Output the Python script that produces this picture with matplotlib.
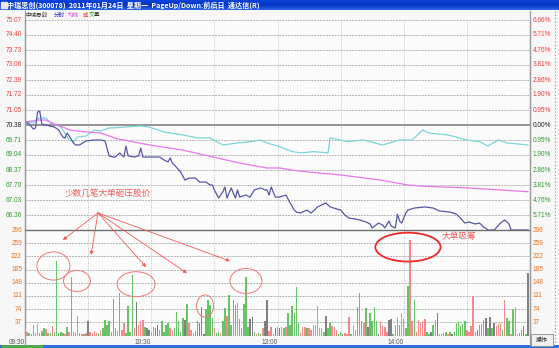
import matplotlib
matplotlib.use('Agg')
import matplotlib.pyplot as plt
from matplotlib.patches import Ellipse, Rectangle
from matplotlib.lines import Line2D
import numpy as np

plt.rcParams['font.family'] = ['Noto Sans CJK SC', 'DejaVu Sans']

# ---- data ----
title = '中瑞思创(300078)  2011年01月24日  星期一  PageUp/Down:前后日  通达信(R)'
stock_name = '中瑞思创'
prev_close = 70.38

price_labels = ['75.07', '74.40', '73.73', '73.06', '72.39', '71.72', '71.05', '70.38',
                '69.71', '69.04', '68.37', '67.70', '67.03', '66.36']
pct_labels = ['6.66%', '5.71%', '4.76%', '3.81%', '2.86%', '1.90%', '0.95%', '0.00%',
              '0.95%', '1.90%', '2.86%', '3.81%', '4.76%', '5.71%']
vol_labels = ['296', '259', '222', '185', '148', '111', '74', '37']
time_ticks = [0, 60, 120, 180]
time_labels = ['09:30', '10:30', '13:00', '14:00']

# price line (minute, price)
price_min = [0, 1, 2, 4, 5, 6, 7, 8, 10, 12, 14, 16, 18, 19, 20, 21, 23, 24, 26, 29, 33, 36, 38,
             40, 42, 43, 45, 47, 48, 49, 52, 54, 55, 56, 59, 64, 66, 68, 69, 70, 71, 74, 76, 78,
             81, 83, 86, 88, 89, 90, 92, 94, 95, 96, 98, 100, 101, 102, 105, 107, 109, 112, 114,
             115, 116, 117, 119, 121, 124, 126, 128, 129, 131, 133, 134, 136, 139, 143, 145, 150,
             152, 154, 157, 159, 162, 164, 165, 168, 170, 171, 173, 174, 176, 177, 178, 179, 181,
             182, 185, 190, 194, 197, 202, 205, 207, 209, 211, 214, 216, 218, 220, 223, 226, 228,
             230, 231, 239]
price_val = [70.51, 70.47, 70.42, 70.20, 70.25, 70.96, 71.00, 70.42, 70.38, 70.33, 70.29, 70.16,
             69.84, 69.80, 70.02, 69.89, 69.58, 69.49, 69.49, 69.67, 69.71, 69.71, 69.67,
             69.00, 68.95, 68.95, 69.13, 68.95, 69.44, 69.00, 68.95, 69.00, 69.35, 68.95, 68.95,
             68.95, 68.82, 68.73, 68.91, 68.68, 68.59, 68.28, 67.92, 68.01, 68.01, 67.83, 67.83,
             67.70, 67.70, 67.48, 67.12, 67.39, 67.61, 67.12, 67.57, 67.12, 67.48, 67.16, 67.25,
             67.16, 67.48, 67.57, 67.48, 67.48, 67.25, 67.61, 67.16, 67.16, 67.25, 66.90, 66.58,
             66.49, 66.45, 66.54, 66.58, 66.45, 66.72, 66.90, 66.72, 66.58, 66.36, 66.22, 66.18,
             66.14, 66.05, 65.96, 65.78, 66.00, 65.91, 65.78, 66.09, 65.87, 65.78, 66.40, 66.09,
             66.00, 66.45, 66.58, 66.67, 66.72, 66.67, 66.54, 66.49, 66.40, 66.22, 66.00, 66.05,
             65.96, 66.00, 65.82, 65.69, 65.69, 66.00, 66.14, 65.96, 65.69, 65.69]

# average price line (minute, price)
avg_min = [0, 6, 10, 14, 19, 21, 28, 36, 44, 59, 75, 89, 102, 115, 121, 129, 139, 150, 169,
           182, 188, 210, 239]
avg_val = [70.51, 70.60, 70.60, 70.42, 70.25, 70.16, 70.08, 70.02, 69.76, 69.49, 69.26, 68.96,
           68.68, 68.46, 68.46, 68.34, 68.24, 68.15, 67.92, 67.70, 67.65, 67.57, 67.40]

# index overlay (minute, % change)
idx_min = [0, 4, 6, 10, 12, 14, 17, 19, 21, 23, 25, 29, 33, 36, 40, 48, 55, 59, 66, 75, 82,
           88, 94, 101, 107, 112, 115, 121, 127, 131, 137, 144, 145, 150, 153, 161, 170, 178,
           184, 189, 192, 201, 210, 216, 220, 225, 229, 239]
idx_pct = [0.19, 0.13, 0.44, 0.44, 0.13, 0.06, -0.13, -0.51, -0.95, -1.08, -0.76, -0.70,
           -0.32, -0.38, -0.19, -0.13, -0.06, -0.13, -0.44, -0.63, -0.82, -0.82, -1.27, -1.14,
           -1.06, -0.95, -1.14, -1.37, -1.69, -1.77, -1.69, -1.77, -0.82, -0.95, -1.06, -0.95,
           -1.27, -0.95, -0.95, -0.32, -0.51, -0.63, -0.95, -1.06, -1.33, -0.95, -1.14, -1.27]

# volume per minute and bar colour code (r up, g down, k flat), 20 minutes per row
volume = [40, 10, 8, 5, 29, 6, 32, 8, 12, 21, 18, 6, 8, 27, 10, 210, 6, 10, 8, 5,
          24, 10, 165, 10, 6, 55, 8, 4, 5, 6, 40, 10, 6, 12, 8, 6, 15, 20, 44, 30,
          41, 10, 102, 20, 12, 120, 15, 35, 8, 83, 10, 170, 20, 95, 29, 40, 44, 25, 20, 15,
          10, 25, 20, 30, 15, 41, 10, 30, 35, 20, 15, 20, 67, 40, 10, 49, 44, 88, 35, 15,
          8, 12, 40, 35, 80, 5, 74, 100, 86, 50, 20, 8, 10, 8, 40, 78, 55, 114, 30, 100,
          85, 92, 45, 20, 88, 165, 25, 46, 53, 10, 5, 8, 5, 20, 40, 100, 12, 25, 5, 20,
          25, 20, 25, 20, 25, 63, 30, 83, 63, 136, 35, 8, 25, 25, 20, 22, 15, 30, 30, 83,
          20, 20, 10, 55, 20, 35, 27, 25, 15, 5, 10, 5, 8, 5, 52, 5, 30, 15, 80, 120,
          40, 35, 78, 25, 63, 40, 80, 40, 5, 41, 27, 25, 10, 44, 45, 5, 30, 53, 30, 63,
          46, 20, 139, 268, 40, 100, 10, 44, 35, 41, 47, 10, 5, 10, 30, 44, 63, 5, 5, 8,
          10, 5, 10, 5, 10, 35, 41, 27, 32, 41, 15, 10, 27, 111, 10, 15, 30, 32, 44, 50,
          20, 52, 20, 35, 27, 32, 35, 15, 100, 49, 41, 5, 74, 81, 5, 8, 15, 27, 5, 175]
vol_dir = list('krgggrrgggrggrgggggr'
               'grgggrgrgrkrrrrgrggg'
               'ggggrgrrggggrkrrrgkk'
               'rrkkgggggrrgggggkgrr'
               'rggkkkggggrggrggrggg'
               'grgggggkkgrggrkkrrgk'
               'rkrgrggggggrrrgrrrrr'
               'rrgkggrrrggkrrrgrrgg'
               'grgkggggkrrrrkkgrrgr'
               'rggrrgrrrrrggkgrkggg'
               'grgkggggggrrrrgkgggk'
               'gkgkrrrgrggrgrrggkgk')

# ---- layout (pixel geometry of the original screenshot) ----
W, H = 559, 348
X0, X1 = 25, 530
Y_TOP, Y_MID, Y_BOT = 20, 230, 335.5

fig = plt.figure(figsize=(W / 100, H / 100), dpi=100)
fig.patch.set_facecolor('#f7f7f7')

def frac_x(px):
    return px / W

def frac_y(py):
    return 1 - py / H

ax_p = fig.add_axes([frac_x(X0), frac_y(Y_MID), frac_x(X1 - X0), (Y_MID - Y_TOP) / H])
ax_v = fig.add_axes([frac_x(X0), frac_y(Y_BOT), frac_x(X1 - X0), (Y_BOT - Y_MID) / H])

red_txt = '#f03c3c'
green_txt = '#2f9a2f'
orange_txt = '#e8731e'
grid_c = '#b4b4b4'
lab_font = dict(family=['Liberation Sans', 'DejaVu Sans'], fontsize=4.7)

price_ticks = [float(s) for s in price_labels]
step = price_ticks[0] - price_ticks[1]
vol_ticks = [float(s) for s in vol_labels]

for ax in (ax_p, ax_v):
    ax.set_facecolor('#fbfbfb')
    ax.set_xlim(0, 240)
    ax.set_xticks([])
    ax.set_yticks([])
    for s in ('top', 'bottom'):
        ax.spines[s].set_visible(False)
    for s in ('left', 'right'):
        ax.spines[s].set_color('#9a9a9a')
        ax.spines[s].set_linewidth(0.9)
    for m in range(30, 240, 30):
        ax.axvline(m, color='#c4c4c4', lw=0.6, ls=(0, (1.5, 1.5)), zorder=0)

ax_p.set_ylim(price_ticks[-1] - step, price_ticks[0])
ax_v.set_ylim(0, 296)

tp = ax_p.get_yaxis_transform()
for i, (lab, pl) in enumerate(zip(price_labels, pct_labels)):
    val = price_ticks[i]
    if abs(val - prev_close) < 1e-6:
        col = '#202020'
        ax_p.axhline(val, color='#8c8c8c', lw=1.3, zorder=1)
    else:
        col = red_txt if val > prev_close else green_txt
        ax_p.axhline(val, color=grid_c, lw=0.7, ls=(0, (2, 1)), zorder=1)
    ax_p.text(-0.006, val, lab, transform=tp, ha='right', va='center', color=col, **lab_font)
    ax_p.text(1.005, val, pl, transform=tp, ha='left', va='center', color=col, **lab_font)

tv = ax_v.get_yaxis_transform()
for lab, val in zip(vol_labels, vol_ticks):
    if val == 296:
        ax_v.axhline(val, color='#6e6e6e', lw=1.0, zorder=3, clip_on=False)
    else:
        ax_v.axhline(val, color=grid_c, lw=0.7, ls=(0, (2, 1)), zorder=1)
    ax_v.text(-0.006, val, lab, transform=tv, ha='right', va='center', color=orange_txt, **lab_font)
    ax_v.text(1.005, val, lab, transform=tv, ha='left', va='center', color=orange_txt, **lab_font)
ax_v.axhline(0, color='#c8c8c8', lw=0.8)

# lines
idx_price = [prev_close * (1 + p / 100) for p in idx_pct]
ax_p.plot(idx_min, idx_price, color='#7ad6d8', lw=0.9, zorder=4)
ax_p.plot(avg_min, avg_val, color='#e877e8', lw=0.9, zorder=4)
ax_p.plot(price_min, price_val, color='#5757a8', lw=0.9, zorder=5)

# volume bars
cmap = {'r': '#f28a8a', 'g': '#66c466', 'k': '#808080'}
minutes = np.arange(len(volume))
bar_cols = [cmap[c] for c in vol_dir]
ax_v.bar(minutes, volume, width=0.7, color=bar_cols, zorder=3)

# time labels
for m, lab in zip(time_ticks, time_labels):
    ax_v.text(m, -0.03, lab, transform=ax_v.get_xaxis_transform(), ha='right', va='top',
              color='#555555', **lab_font)

# ---- annotations ----
ann_red = '#f05a5a'
ax_p.text(19, 67.34, '少数几笔大单砸压股价', color=ann_red, fontsize=6.2, va='center', ha='left')
arrow_src = (34.7, 344)
arrow_dst = [(18, 268), (31.4, 226), (57.5, 192), (77, 175), (97.4, 209)]
for dst in arrow_dst:
    ax_v.annotate('', xy=dst, xytext=arrow_src, annotation_clip=False,
                  arrowprops=dict(arrowstyle='-|>', color=ann_red, lw=0.6,
                                  mutation_scale=5, shrinkA=0, shrinkB=0))
circles = [(13.5, 195, 15.7, 79), (24.7, 153, 12.8, 59), (52.8, 144, 18, 70),
           (85.6, 83, 8.1, 62), (105, 153, 15.2, 70)]
for cx, cy, w, h in circles:
    ax_v.add_patch(Ellipse((cx, cy), w, h, fill=False, ec='#ec7878', lw=0.7, zorder=6))
ax_v.add_patch(Ellipse((182, 248), 31, 81, fill=False, ec='#f02828', lw=1.3, zorder=6,
                       clip_on=False))
ax_v.text(198, 279, '大单吸筹', color=ann_red, fontsize=6.2, va='center', ha='left')

# ---- window chrome ----
top = fig.add_axes([0, frac_y(10), 1, 10 / H])
grad = np.linspace(0, 1, 20).reshape(-1, 1)
top.imshow(grad, aspect='auto', cmap=matplotlib.colors.LinearSegmentedColormap.from_list(
    'tb', ['#0b44d8', '#0434c4', '#2a66e8']), extent=[0, 1, 0, 1])
top.set_axis_off()
top.text(0.013, 0.5, title, color='white', fontsize=5.1, fontweight='bold',
         va='center', ha='left', transform=top.transAxes)
top.add_patch(Rectangle((0.002, 0.2), 0.01, 0.6, color='#e8e8e8', transform=top.transAxes))

fig.text(frac_x(X0), frac_y(15), stock_name, fontsize=4, color='#333333', va='center')
legend_parts = [('分时', '#3030c0', 54), ('均线', '#e040e0', 68), ('成', '#e03030', 83),
                ('交', '#20a020', 88.5), ('量', '#333333', 94)]
for txt, col, px in legend_parts:
    fig.text(frac_x(px), frac_y(15), txt, fontsize=4, color=col, va='center')

for px in (24.5, 530):
    fig.add_artist(Line2D([frac_x(px)] * 2, [frac_y(11), frac_y(345)], color='#9a9a9a', lw=0.9))
fig.add_artist(Line2D([frac_x(555)] * 2, [frac_y(11), frac_y(345)], color='#909090', lw=0.8,
                      ls=(0, (1, 2))))

bot = fig.add_axes([0, 0, 1, 3.5 / H])
bot.set_axis_off()
bot.add_patch(Rectangle((0, 0), 1, 1, color='#2c6fe0', transform=bot.transAxes))
bot.add_patch(Rectangle((0.004, 0), frac_x(40), 1, color='#4ea84e', transform=bot.transAxes))

fig.add_artist(Rectangle((frac_x(531), frac_y(346)), frac_x(22), 12 / H, fc='#f0f0f0',
                         ec='#8a8a8a', lw=0.6))
fig.text(frac_x(542), frac_y(340), '操作', fontsize=4.3, color='#222222', ha='center', va='center')

fig.savefig('out.png', dpi=100, facecolor=fig.get_facecolor())
